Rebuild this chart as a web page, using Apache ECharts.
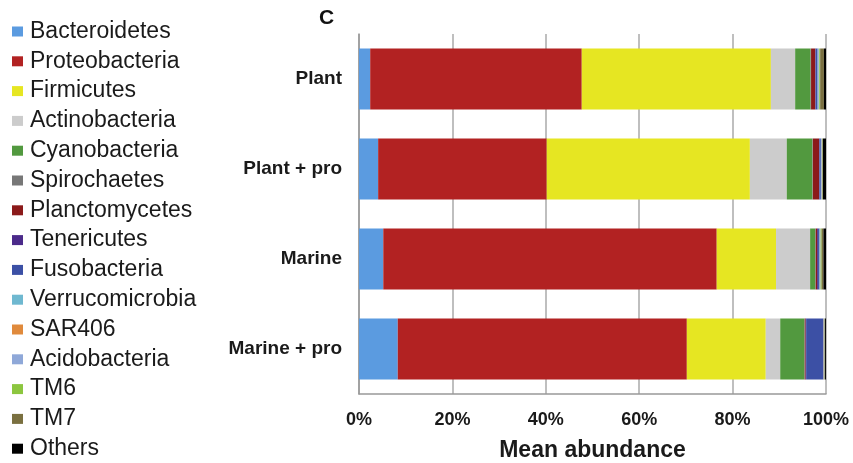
<!DOCTYPE html>
<html>
<head>
<meta charset="utf-8">
<script src="https://cdn.jsdelivr.net/npm/echarts@6/dist/echarts.min.js"></script>
<style>
html,body{margin:0;padding:0;background:#fff;}
#chart{width:853px;height:463px;}
</style>
</head>
<body>
<div id="chart"></div>
<script>
const categories = ['Plant', 'Plant + pro', 'Marine', 'Marine + pro'];
const xTickLabels = ['0%', '20%', '40%', '60%', '80%', '100%'];
const phyla = ['Bacteroidetes','Proteobacteria','Firmicutes','Actinobacteria','Cyanobacteria','Spirochaetes','Planctomycetes','Tenericutes','Fusobacteria','Verrucomicrobia','SAR406','Acidobacteria','TM6','TM7','Others'];
const colors = ['#5b9be0','#b22222','#e6e622','#cccccc','#52993f','#777777','#8b1a1a','#4b2a8a','#3c50a5','#6fb8d0','#e08a3c','#8fa8d8','#8cc63f','#7a7040','#000000'];

const Bacteroidetes   = [2.4, 4.1, 5.2, 8.3];
const Proteobacteria  = [45.3, 36.1, 71.4, 61.9];
const Firmicutes      = [40.5, 43.5, 12.7, 16.9];
const Actinobacteria  = [5.2, 7.9, 7.3, 3.1];
const Cyanobacteria   = [3.3, 5.5, 1.1, 5.2];
const Spirochaetes    = [0.1, 0.1, 0.1, 0.05];
const Planctomycetes  = [0.9, 1.3, 0.3, 0.2];
const Tenericutes     = [0.1, 0.1, 0.2, 0.1];
const Fusobacteria    = [0.4, 0.3, 0.3, 3.7];
const Verrucomicrobia = [0.1, 0.1, 0.1, 0.05];
const SAR406          = [0.05, 0.05, 0.05, 0.05];
const Acidobacteria   = [0.2, 0.1, 0.1, 0.1];
const TM6             = [0.2, 0.1, 0.2, 0.05];
const TM7             = [0.8, 0.1, 0.4, 0.1];
const Others          = [0.45, 0.65, 0.55, 0.2];

const values = [Bacteroidetes,Proteobacteria,Firmicutes,Actinobacteria,Cyanobacteria,Spirochaetes,Planctomycetes,Tenericutes,Fusobacteria,Verrucomicrobia,SAR406,Acidobacteria,TM6,TM7,Others];

const chart = echarts.init(document.getElementById('chart'), null, {renderer:'canvas'});
const font = 'Liberation Sans, Arial, sans-serif';
chart.setOption({
  animation: false,
  color: colors,
  title: {
    text: 'C', left: 319, top: 8, padding: 0,
    textStyle: {fontFamily: font, fontSize: 21, fontWeight: 'bold', color: '#111'}
  },
  legend: {
    orient: 'vertical', left: 12, top: 20, height: 445, padding: 0,
    itemWidth: 11, itemHeight: 10, itemGap: 6.8,
    icon: 'rect',
    textStyle: {fontFamily: font, fontSize: 23, lineHeight: 23, color: '#1a1a1a', padding:[0,0,0,2]},
    data: phyla
  },
  grid: {left: 359, right: 27, top: 34, bottom: 69, containLabel: false, outerBoundsMode: 'none'},
  xAxis: {
    type: 'value', min: 0, max: 100, interval: 20,
    name: 'Mean abundance', nameLocation: 'middle', nameGap: 45,
    nameTextStyle: {fontFamily: font, fontSize: 23, fontWeight: 'bold', color: '#1a1a1a'},
    axisLine: {show: true, lineStyle: {color: '#999', width: 1.5}},
    axisTick: {show: false},
    splitLine: {show: true, lineStyle: {color: '#aaa', width: 1.5}},
    axisLabel: {
      margin: 17, fontFamily: font, fontSize: 18, fontWeight: 'bold', color: '#1a1a1a',
      formatter: function (v) { return xTickLabels[Math.round(v / 20)]; }
    }
  },
  yAxis: {
    type: 'category', data: categories, inverse: true,
    axisLine: {show: true, lineStyle: {color: '#999', width: 1.5}},
    axisTick: {show: false},
    axisLabel: {margin: 17, fontFamily: font, fontSize: 19, fontWeight: 'bold', color: '#1a1a1a'}
  },
  series: phyla.map(function (name, i) {
    return {
      name: name, type: 'bar', stack: 'total', barWidth: 61,
      data: values[i],
      itemStyle: {color: colors[i]}
    };
  })
});
</script>
</body>
</html>
